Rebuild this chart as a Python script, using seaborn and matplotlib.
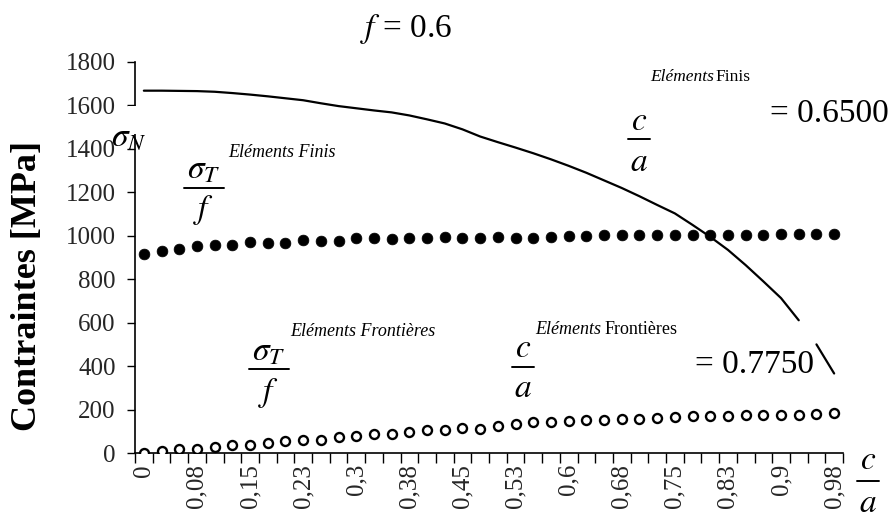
import matplotlib
matplotlib.use("Agg")
import matplotlib.pyplot as plt
import seaborn as sns
import pandas as pd
from matplotlib.lines import Line2D
from matplotlib.patches import Rectangle
from matplotlib.ticker import FixedLocator, NullFormatter

# Crack depth ratio c/a (category axis)
ca_ratio = [0.000, 0.025, 0.050, 0.075, 0.100, 0.125, 0.150, 0.175, 0.200, 0.225,
            0.250, 0.275, 0.300, 0.325, 0.350, 0.375, 0.400, 0.425, 0.450, 0.475,
            0.500, 0.525, 0.550, 0.575, 0.600, 0.625, 0.650, 0.675, 0.700, 0.725,
            0.750, 0.775, 0.800, 0.825, 0.850, 0.875, 0.900, 0.925, 0.950, 0.975]

# Normal stress sigma_N [MPa]
sigma_n = [1668, 1668, 1667, 1666, 1663, 1657, 1650, 1642, 1633, 1624,
           1610, 1597, 1587, 1577, 1568, 1554, 1536, 1517, 1490, 1457,
           1431, 1406, 1380, 1352, 1322, 1290, 1255, 1220, 1182, 1142,
           1103, 1050, 995, 935, 865, 790, 713, 611, 500, 366]

# sigma_T / f, finite elements [MPa]
sigma_t_fe = [918, 930, 938, 951, 959, 957, 970, 969, 967, 980,
              978, 977, 990, 988, 987, 991, 989, 993, 991, 990,
              994, 992, 991, 994, 1000, 1001, 1002, 1002, 1003, 1003,
              1004, 1004, 1004, 1005, 1005, 1005, 1006, 1006, 1006, 1007]

# sigma_T / f, boundary elements [MPa]
sigma_t_be = [0, 7, 20, 18, 26, 39, 37, 45, 53, 61,
              60, 72, 80, 88, 87, 95, 107, 106, 114, 112,
              125, 133, 141, 144, 148, 151, 152, 155, 156, 163,
              166, 170, 172, 172, 173, 173, 175, 176, 178, 182]

tick_labels = ["0", "0,08", "0,15", "0,23", "0,3", "0,38", "0,45",
               "0,53", "0,6", "0,68", "0,75", "0,83", "0,9", "0,98"]

y_ticks = [0, 200, 400, 600, 800, 1000, 1200, 1400, 1600, 1800]

W, H = 892, 520

sns.set_theme(style="white")
plt.rcParams["font.family"] = ["Liberation Serif", "DejaVu Serif"]
plt.rcParams["mathtext.fontset"] = "stix"

df = pd.DataFrame({"pos": range(len(ca_ratio)), "ca": ca_ratio,
                   "sn": sigma_n, "fe": sigma_t_fe, "be": sigma_t_be})

fig = plt.figure(figsize=(W / 100, H / 100), dpi=100)
ax = fig.add_axes([135 / W, 1 - 453 / H, (843 - 135) / W, (453 - 62) / H])

# sigma_N curve (the tail is partly hidden behind the equation panel)
head = df[df.pos <= 37]
tail = df[df.pos >= 38]
sns.lineplot(data=head, x="pos", y="sn", color="black", lw=1.6, ax=ax)
sns.lineplot(data=tail, x="pos", y="sn", color="black", lw=1.6, ax=ax)

sns.scatterplot(data=df, x="pos", y="fe", color="black", s=60,
                edgecolor="black", linewidth=0.5, ax=ax, zorder=3)
sns.scatterplot(data=df, x="pos", y="be", facecolor="white", s=42,
                edgecolor="black", linewidth=1.7, ax=ax, zorder=3)

ax.set_xlim(-0.5, len(ca_ratio) - 0.5)
ax.set_ylim(0, 1800)
ax.set_xlabel("")
ax.set_ylabel("")

label_pos = list(range(0, len(ca_ratio), 3))
ax.xaxis.set_major_locator(FixedLocator(label_pos))
ax.set_xticklabels(tick_labels, rotation=90, fontsize=18)
ax.xaxis.set_minor_locator(FixedLocator([p - 0.5 for p in range(len(ca_ratio) + 1)]))
ax.xaxis.set_minor_formatter(NullFormatter())
ax.tick_params(axis="x", which="major", length=0, pad=8)
ax.tick_params(axis="x", which="minor", length=7, width=1.0, color="black",
               direction="out", bottom=True)

ax.set_yticks(y_ticks)
ax.set_yticklabels([str(v) for v in y_ticks], fontsize=18)
ax.tick_params(axis="y", which="major", length=6, width=1.0, color="black",
               direction="out", left=True, pad=8)

for side in ("top", "right"):
    ax.spines[side].set_visible(False)
for side in ("left", "bottom"):
    ax.spines[side].set_color("black")
    ax.spines[side].set_linewidth(1.2)
ax.grid(False)
ax.set_facecolor("white")


def fx(x):
    return x / W


def fy(y):
    return 1 - y / H


def txt(x, y, s, size, ha="left", va="center", **kw):
    fig.text(fx(x), fy(y), s, fontsize=size, ha=ha, va=va, color="black", **kw)


def fraction(xc, y_num, y_bar, y_den, num, den, half_w, size=24):
    txt(xc, y_num, num, size, ha="center")
    fig.add_artist(Line2D([fx(xc - half_w), fx(xc + half_w)], [fy(y_bar)] * 2,
                          color="black", lw=1.4, transform=fig.transFigure))
    txt(xc, y_den, den, size, ha="center")


# Title
txt(406, 29, r"$f$ = 0.6", 24, ha="center")

# Axis titles
txt(28, 286, "Contraintes [MPa]", 26, ha="center", rotation=90, fontweight="bold")
fraction(868, 461, 481, 504, r"$c$", r"$a$", 11)

# sigma_N label, its white panel interrupts the vertical axis line
fig.add_artist(Rectangle((fx(128), fy(134)), 12 / W, 28 / H, transform=fig.transFigure,
                         facecolor="white", edgecolor="none", zorder=5))
txt(111, 137, r"$\sigma_N$", 24, zorder=6)

# sigma_T / f, finite elements
fraction(204, 170, 188, 210, r"$\sigma_T$", r"$f$", 20)
txt(228, 152, "Eléments Finis", 13, style="italic")

# c/a, finite elements
fraction(639, 122, 139, 163, r"$c$", r"$a$", 11)
txt(650, 77, "Eléments", 12.5, style="italic")
txt(715, 77, "Finis", 12.5)
txt(770, 114, "= 0.6500", 24)

# sigma_T / f, boundary elements
fraction(269, 352, 369, 393, r"$\sigma_T$", r"$f$", 20)
txt(290, 332, "Eléments Frontières", 13, style="italic")

# c/a, boundary elements
fraction(523, 349, 367, 389, r"$c$", r"$a$", 11)
txt(535, 330, "Eléments", 13, style="italic")
txt(605, 330, "Frontières", 13)
txt(695, 365, "= 0.7750", 24)

fig.savefig("out.png", dpi=100, facecolor="white")
